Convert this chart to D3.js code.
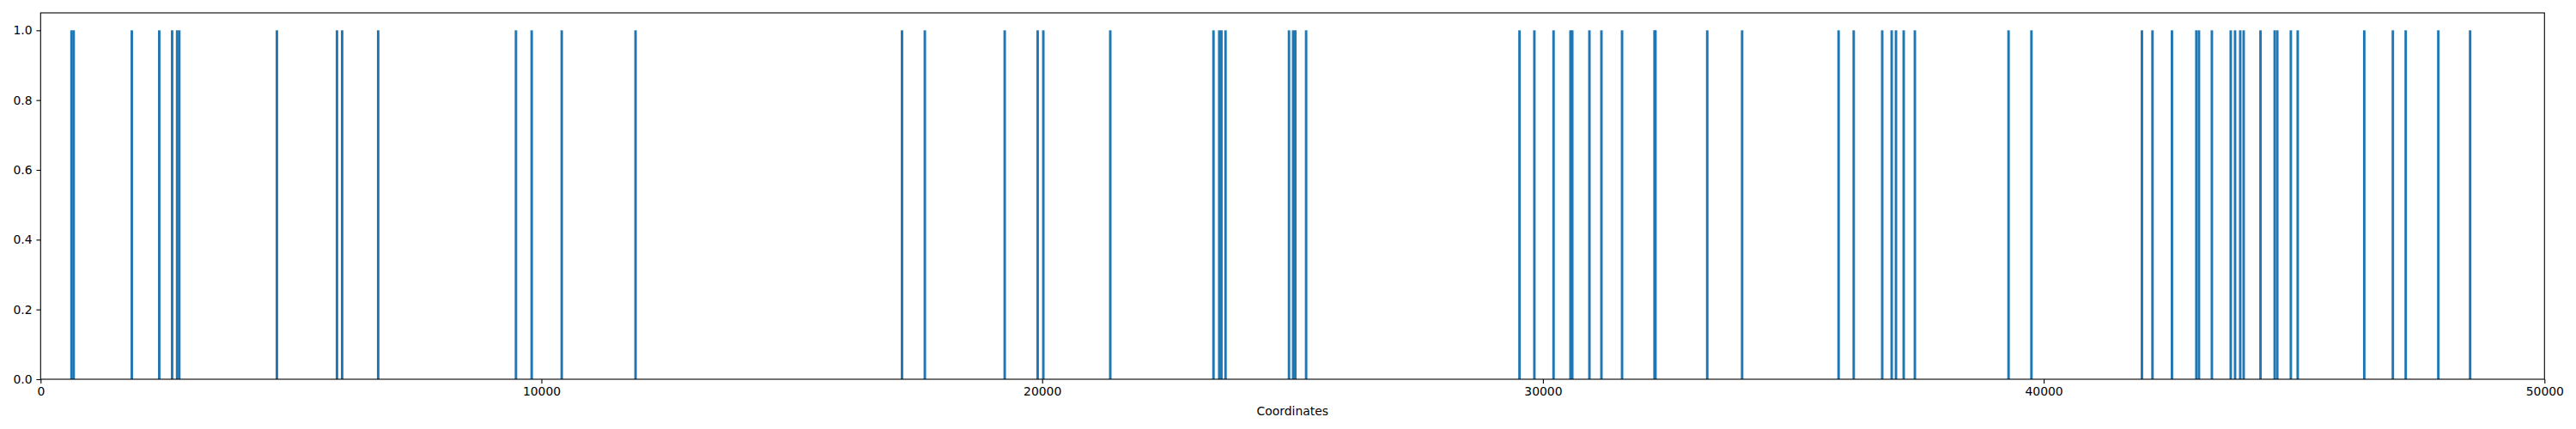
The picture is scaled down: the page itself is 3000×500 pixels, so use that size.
<!DOCTYPE html>
<html>
<head>
<meta charset="utf-8">
<script src="https://cdn.jsdelivr.net/npm/d3@7"></script>
<style>
  body { margin: 0; background: #fff; }
  text { font-family: "DejaVu Sans", sans-serif; }
</style>
</head>
<body>
<div class="container"></div>
<script>
// bar positions (x coordinate of each bar) and their heights
const coords = [617, 660, 1821, 2369, 2626, 2726, 2769, 4718, 5918, 6021, 6741,
  9492, 9806, 10406, 11880, 17201, 17657, 19252, 19910, 20023, 21360,
  23421, 23536, 23580, 23661, 24929, 25012, 25055, 25271,
  29532, 29829, 30212, 30550, 30586, 30928, 31168, 31580, 32228, 32247, 33281,
  33977, 35904, 36206, 36775, 36964, 37050, 37204, 37427, 39298, 39755,
  41961, 42172, 42561, 43048, 43100, 43358, 43735, 43821, 43924, 43993,
  44329, 44612, 44664, 44935, 45072, 46401, 46972, 47229, 47880, 48515];
const heights = [1, 1, 1, 1, 1, 1, 1, 1, 1, 1, 1,
  1, 1, 1, 1, 1, 1, 1, 1, 1, 1,
  1, 1, 1, 1, 1, 1, 1, 1,
  1, 1, 1, 1, 1, 1, 1, 1, 1, 1, 1,
  1, 1, 1, 1, 1, 1, 1, 1, 1, 1,
  1, 1, 1, 1, 1, 1, 1, 1, 1, 1,
  1, 1, 1, 1, 1, 1, 1, 1, 1, 1];
const barWidth = 50;

const xTicks = [0, 10000, 20000, 30000, 40000, 50000];
const yTicks = [0.0, 0.2, 0.4, 0.6, 0.8, 1.0];
const xLabel = "Coordinates";

const width = 3000, height = 500;
const margin = {top: 15, right: 36.7, bottom: 58, left: 47.3};
const graphWidth = width - margin.left - margin.right;
const graphHeight = height - margin.top - margin.bottom;

const svg = d3.select(".container").append("svg")
    .attr("width", width)
    .attr("height", height)
    .style("display", "block");

svg.append("rect").attr("width", width).attr("height", height).attr("fill", "#fff");

const graph = svg.append("g")
    .attr("transform", `translate(${margin.left}, ${margin.top})`);

//scales
const x = d3.scaleLinear().domain([0, 50000]).range([0, graphWidth]);
const y = d3.scaleLinear().domain([0, 1.05]).range([graphHeight, 0]);

//bars
graph.selectAll("rect.bar")
    .data(coords)
    .enter()
    .append("rect")
    .attr("class", "bar")
    .attr("x", d => x(d - barWidth / 2))
    .attr("width", x(barWidth) - x(0))
    .attr("y", (d, i) => y(heights[i]))
    .attr("height", (d, i) => y(0) - y(heights[i]))
    .attr("fill", "#1f77b4");

//axes
const xAxis = d3.axisBottom(x)
    .tickValues(xTicks)
    .tickFormat(d3.format("d"))
    .tickSize(4.9)
    .tickPadding(4.6)
    .tickSizeOuter(0);
const yAxis = d3.axisLeft(y)
    .tickValues(yTicks)
    .tickFormat(d3.format(".1f"))
    .tickSize(4.9)
    .tickPadding(4.9)
    .tickSizeOuter(0);

const xAxisGroup = graph.append("g")
    .attr("transform", `translate(0, ${graphHeight})`)
    .call(xAxis);
const yAxisGroup = graph.append("g")
    .call(yAxis);

[xAxisGroup, yAxisGroup].forEach(g => {
  g.select(".domain").remove();
  g.selectAll("line").attr("stroke", "#000").attr("stroke-width", 1.1);
  g.selectAll("text")
    .attr("fill", "#000")
    .style("font-family", "DejaVu Sans")
    .style("font-size", "13.9px");
});

//frame
graph.append("rect")
    .attr("width", graphWidth)
    .attr("height", graphHeight)
    .attr("fill", "none")
    .attr("stroke", "#000")
    .attr("stroke-width", 1.1);

//x label
svg.append("text")
    .attr("x", margin.left + graphWidth / 2)
    .attr("y", 484)
    .attr("text-anchor", "middle")
    .style("font-size", "13.9px")
    .attr("fill", "#000")
    .text(xLabel);
</script>
</body>
</html>
